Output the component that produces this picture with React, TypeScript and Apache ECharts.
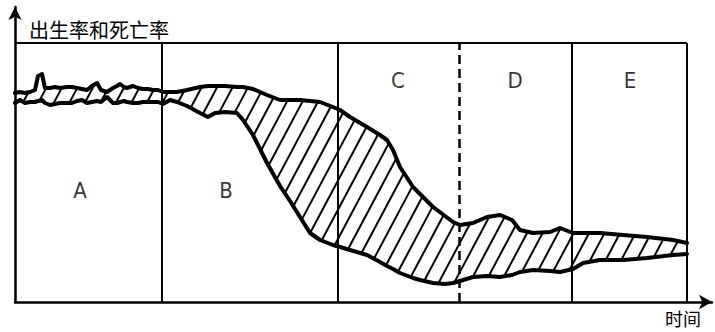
import React, { useEffect, useRef } from "react";
import * as echarts from "echarts";

// time axis (arbitrary units along the stages)
const TIME = [
  0, 1.25, 2.5, 3.75, 5, 5.75, 6.75, 7.5, 8.75, 10, 11.25, 13, 14.25, 15.5, 16.75, 18, 19.25, 20.5, 21.5, 23,
  24.5, 25.5, 26.25, 27.25, 28, 29.5, 30.75, 32, 33.25, 34.5, 35.75, 37, 38.75, 40.5, 43, 46.25, 48.25, 50, 52.5, 55.5,
  57, 59.5, 63, 66.25, 68.75, 71.25, 73.75, 76.25, 79.5, 81.25, 83.75, 88, 91.25, 93, 94.5, 96.25, 99.5, 101.25, 104.5, 107.5,
  109.5, 111.25, 114.5, 118, 121.25, 124.25, 126.25, 129.5, 133.75, 136.25, 139.5, 142, 146.25, 152, 158, 164.5, 168,
];

// birth rate (upper line)
const BIRTH_RATE = [
  41.8, 42, 41.8, 42, 42.4, 45.2, 45.6, 42.8, 42.8, 43, 42.8, 43, 43, 42.8, 42.6, 42.4, 43.2, 43.8, 42.4, 42,
  42.8, 43.2, 43.6, 43, 42.8, 43.2, 42.8, 42.6, 42.6, 42.4, 42.4, 42, 42, 42, 42.4, 43, 43.2, 43.2, 43.2, 43,
  43, 42.6, 41.4, 40.4, 40.4, 40.4, 40.2, 40, 39, 38.4, 37, 35, 33.4, 32.4, 30.4, 27, 23, 21.6, 19, 17.2,
  16, 15.4, 15.8, 17, 17.4, 16.4, 14.4, 13.8, 14, 14.8, 13.8, 13.8, 13.8, 13.4, 13, 12.4, 11.8,
];

// death rate (lower line)
const DEATH_RATE = [
  39.8, 40.4, 39.8, 40, 40, 40.2, 40.4, 39.8, 39.4, 39.6, 39.8, 39.8, 39.8, 40.2, 40.4, 39.8, 40, 40.2, 40, 41,
  39.8, 39.8, 40, 40.2, 40, 39.8, 39.8, 40, 40, 40, 40, 39.6, 40.4, 40, 39.2, 37.8, 37, 37.8, 38, 37.8,
  36.4, 33.4, 27.8, 23.2, 20.2, 17, 13.8, 12.4, 11.4, 11, 10.4, 9.4, 8, 7.2, 6.6, 5.8, 4.8, 4.4, 3.8, 3.6,
  3.8, 4.2, 5, 5.2, 5, 5.4, 6, 6.4, 6.2, 6, 6.6, 7.8, 8.4, 8.4, 8.8, 9.4, 9.6,
];

const STAGE_BOUNDARIES = [36.75, 80.75, 111, 139.25];
const DASHED_BOUNDARY = 111;
const FRAME_END_TIME = 168;
const FRAME_TOP_RATE = 51.8;
const AXIS_MAX_TIME = 174.25;
const AXIS_MAX_RATE = 59;

const STAGE_LABELS = ["A", "B", "C", "D", "E"];
const STAGE_LABEL_TIME = [16.25, 52.75, 95.75, 125, 153.75];
const STAGE_LABEL_RATE = [22.4, 22.4, 44.3, 44.3, 44.3];

const Y_NAME = "出生率和死亡率";
const X_NAME = "时间";

// hatch style (pixels / degrees)
const HATCH_SPACING = 15.5;
const HATCH_ANGLE = 62;

function sampleAt(pts: number[][], x: number): number {
  if (x <= pts[0][0]) return pts[0][1];
  for (let i = 0; i < pts.length - 1; i++) {
    const a = pts[i];
    const b = pts[i + 1];
    if (x >= a[0] && x <= b[0]) {
      const f = b[0] === a[0] ? 0 : (x - a[0]) / (b[0] - a[0]);
      return a[1] + f * (b[1] - a[1]);
    }
  }
  return pts[pts.length - 1][1];
}

export default function App() {
  const ref = useRef<HTMLDivElement>(null);

  useEffect(() => {
    if (!ref.current) return;
    const chart = echarts.init(ref.current, null, { renderer: "svg" });

    const birthData = TIME.map((t, i) => [t, BIRTH_RATE[i]]);
    const deathData = TIME.map((t, i) => [t, DEATH_RATE[i]]);

    const frameLines: any[] = STAGE_BOUNDARIES.map((b) => [
      {
        coord: [b, 0],
        lineStyle: b === DASHED_BOUNDARY ? { type: [9, 5], width: 2.5 } : undefined,
      },
      { coord: [b, FRAME_TOP_RATE] },
    ]);
    frameLines.push([{ coord: [0, FRAME_TOP_RATE] }, { coord: [FRAME_END_TIME, FRAME_TOP_RATE] }]);
    frameLines.push([{ coord: [FRAME_END_TIME, 0] }, { coord: [FRAME_END_TIME, FRAME_TOP_RATE] }]);

    const cjk = "'Noto Sans CJK SC', 'Noto Sans', sans-serif";

    const renderHatch = (_params: any, api: any) => {
      const up = birthData.map((p) => api.coord(p));
      const lo = deathData.map((p) => api.coord(p));
      const x0 = up[0][0];
      const x1 = up[up.length - 1][0];
      const step = 0.5;
      const n = Math.floor((x1 - x0) / step) + 1;
      const xs: number[] = [];
      const ua: number[] = [];
      const la: number[] = [];
      for (let k = 0; k < n; k++) {
        const x = x0 + k * step;
        xs.push(x);
        ua.push(sampleAt(up, x));
        la.push(sampleAt(lo, x));
      }
      const tan = Math.tan((HATCH_ANGLE * Math.PI) / 180);
      const cMin = Math.min(...ua) + tan * x0;
      const cMax = Math.max(...la) + tan * x1;
      const cStep = tan * HATCH_SPACING;
      const children: any[] = [];
      for (let c = cMin - (cMin % cStep); c <= cMax + cStep; c += cStep) {
        let start = -1;
        for (let k = 0; k <= n; k++) {
          let inside = false;
          if (k < n) {
            const y = c - tan * xs[k];
            inside = y >= ua[k] && y <= la[k];
          }
          if (inside && start < 0) start = k;
          if (!inside && start >= 0) {
            const e = k - 1;
            if (e > start) {
              children.push({
                type: "line",
                shape: {
                  x1: xs[start],
                  y1: c - tan * xs[start],
                  x2: xs[e],
                  y2: c - tan * xs[e],
                },
                style: { stroke: "#000", lineWidth: 2 },
              });
            }
            start = -1;
          }
        }
      }
      return { type: "group", children };
    };

    chart.setOption({
      animation: false,
      backgroundColor: "#fff",
      grid: { left: 15, right: 3, top: 7, bottom: 30 },
      xAxis: {
        type: "value",
        min: 0,
        max: AXIS_MAX_TIME,
        name: X_NAME,
        nameLocation: "end",
        nameGap: -11,
        nameTextStyle: {
          fontFamily: cjk,
          fontSize: 18,
          color: "#000",
          align: "right",
          verticalAlign: "top",
          padding: [7, 0, 0, 0],
        },
        axisLine: {
          show: true,
          symbol: ["none", "arrow"],
          symbolSize: [11, 13],
          lineStyle: { color: "#000", width: 2.5 },
        },
        axisTick: { show: false },
        axisLabel: { show: false },
        splitLine: { show: false },
      },
      yAxis: {
        type: "value",
        min: 0,
        max: AXIS_MAX_RATE,
        name: Y_NAME,
        nameLocation: "end",
        nameGap: -32,
        nameTextStyle: {
          fontFamily: cjk,
          fontSize: 20,
          color: "#000",
          align: "left",
          verticalAlign: "bottom",
          padding: [0, 0, 0, 14],
        },
        axisLine: {
          show: true,
          symbol: ["none", "arrow"],
          symbolSize: [10, 13],
          lineStyle: { color: "#000", width: 2.5 },
        },
        axisTick: { show: false },
        axisLabel: { show: false },
        splitLine: { show: false },
      },
      series: [
        {
          name: "hatch",
          type: "custom",
          renderItem: renderHatch,
          data: [[0, 0]],
          silent: true,
          clip: false,
          z: 2,
        },
        {
          name: "出生率",
          type: "line",
          data: birthData,
          showSymbol: false,
          symbol: "none",
          lineStyle: { color: "#000", width: 4, join: "round", cap: "round" },
          z: 3,
        },
        {
          name: "死亡率",
          type: "line",
          data: deathData,
          showSymbol: false,
          symbol: "none",
          lineStyle: { color: "#000", width: 4, join: "round", cap: "round" },
          z: 3,
          markLine: {
            silent: true,
            symbol: ["none", "none"],
            label: { show: false },
            lineStyle: { color: "#000", width: 2, type: "solid" },
            data: frameLines,
          },
        },
        {
          name: "阶段",
          type: "scatter",
          symbolSize: 1,
          itemStyle: { color: "rgba(0,0,0,0)" },
          data: STAGE_LABELS.map((s, i) => ({ name: s, value: [STAGE_LABEL_TIME[i], STAGE_LABEL_RATE[i]] })),
          label: {
            show: true,
            position: "inside",
            formatter: "{b}",
            color: "#000",
            fontSize: 22,
            fontFamily: "'Liberation Sans Narrow', 'DejaVu Sans Condensed', Roboto, sans-serif",
          },
          z: 4,
        },
      ],
    });

    return () => chart.dispose();
  }, []);

  return (
    <div
      ref={ref}
      style={{ position: "fixed", left: 0, top: 0, width: 715, height: 332, background: "#fff" }}
    />
  );
}
